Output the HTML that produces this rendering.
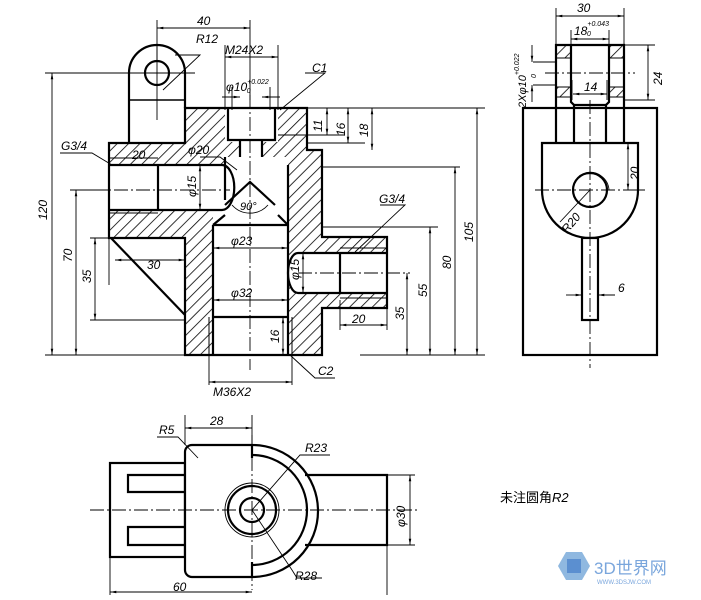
<!DOCTYPE html>
<html><head><meta charset="utf-8"><style>
html,body{margin:0;padding:0;background:#fff;}
svg{display:block}
text{font-family:"Liberation Sans","Noto Sans CJK SC",sans-serif;font-style:italic;fill:#000}
</style></head><body>
<svg width="701" height="600" viewBox="0 0 701 600" xmlns="http://www.w3.org/2000/svg" font-size="12">
<defs>
<pattern id="h" patternUnits="userSpaceOnUse" width="8" height="8" patternTransform="rotate(45)">
<line x1="0" y1="0" x2="0" y2="8" stroke="#000" stroke-width="1.6"/>
</pattern>
<marker id="a" viewBox="0 0 10 10" refX="10" refY="5" markerWidth="7" markerHeight="7" orient="auto-start-reverse"><path d="M0,3 L10,5 L0,7z" fill="#000"/></marker>
</defs>
<rect width="701" height="600" fill="#fff"/>

<!-- ===== FRONT SECTION VIEW ===== -->
<path d="M109,143 H185 V108 H307 V150 H322 V237 H387 V308 H322 V355 H185 V238 H109 Z" fill="url(#h)"/>
<g fill="#fff">
<rect x="225" y="108" width="53" height="34"/>
<rect x="240" y="140" width="22" height="18"/>
<path d="M225,157 H288 V225 H213 V215 L225,205 Z"/>
<path d="M109,165 H222 A12,22 0 0 1 222,210 H109 Z"/>
<rect x="213" y="225" width="75" height="130"/>
<path d="M298,253 H387 V293 H298 A10,20 0 0 1 298,253 Z"/>
</g>
<g fill="none" stroke="#000" stroke-width="2.2">
<path d="M129,143 V73 A28,28 0 0 1 185,73 V108"/>
<circle cx="157" cy="73" r="12"/>
<line x1="129" y1="100" x2="185" y2="100" stroke-width="1.4"/>
<path d="M109,143 H185 V108 H307 V150 H322 V237 H387 V308 H322 V355 H185 V238 H109 Z"/>
<line x1="111" y1="238" x2="185" y2="315"/>
<path d="M228,108 V140 H275 V108"/>
<path d="M240,140 V157 M262,140 V157"/>
<path d="M225,157 V200 M288,165 V225"/>
<path d="M225,205 L250,182 L275,205 M213,225 L225,215 M288,225 L278,215"/>
<path d="M213,225 H288"/>
<path d="M213,225 V355 M288,225 V355"/>
<path d="M213,317 H288"/>
<path d="M209,317 V355 M292,317 V355" stroke-width="1"/>
<path d="M109,165 H222 M109,210 H222"/>
<path d="M222,165 A12,22 0 0 1 222,210"/>
<line x1="158" y1="165" x2="158" y2="210"/>
<path d="M109,158 H158 M109,213 H158" stroke-width="1"/>
<path d="M298,253 H387 M298,293 H387"/>
<path d="M298,253 A10,20 0 0 0 298,293"/>
<line x1="340" y1="253" x2="340" y2="293"/>
<path d="M340,248 H387 M340,298 H387" stroke-width="1"/>
</g>
<g stroke="#000" stroke-width="0.9" fill="none">
<path d="M157,45 V120 M125,73 H195"/>
<path d="M250,95 V370" stroke-dasharray="14,3,2,3"/>
<path d="M70,190 H230" stroke-dasharray="14,3,2,3"/>
<path d="M298,273 H410" stroke-dasharray="14,3,2,3"/>
<path d="M45,73 H130 M45,355 H185 M70,190 H110 M90,238 H109 M90,320 H185"/>
<path d="M307,108 H485 M307,143 H365 M278,135 H345 M322,167 H460 M322,227 H438 M360,355 H485"/>
<path d="M157,20 V60 M250,20 V100 M225,45 V110 M278,45 V110 M232,87 V110 M270,87 V110"/>
<path d="M109,238 V285 M185,250 V285 M340,300 V330 M387,300 V330"/>
<path d="M209,355 V385 M292,355 V385"/>
<line x1="52" y1="73" x2="52" y2="355" marker-start="url(#a)" marker-end="url(#a)"/>
<line x1="76" y1="190" x2="76" y2="355" marker-start="url(#a)" marker-end="url(#a)"/>
<line x1="95" y1="238" x2="95" y2="320" marker-start="url(#a)" marker-end="url(#a)"/>
<line x1="477" y1="108" x2="477" y2="355" marker-start="url(#a)" marker-end="url(#a)"/>
<line x1="455" y1="167" x2="455" y2="355" marker-start="url(#a)" marker-end="url(#a)"/>
<line x1="430" y1="227" x2="430" y2="355" marker-start="url(#a)" marker-end="url(#a)"/>
<line x1="407" y1="273" x2="407" y2="355" marker-start="url(#a)" marker-end="url(#a)"/>
<line x1="327" y1="108" x2="327" y2="135" marker-start="url(#a)" marker-end="url(#a)"/>
<line x1="348" y1="108" x2="348" y2="143" marker-start="url(#a)" marker-end="url(#a)"/>
<line x1="372" y1="108" x2="372" y2="150" marker-start="url(#a)" marker-end="url(#a)"/>
<line x1="157" y1="28" x2="250" y2="28" marker-start="url(#a)" marker-end="url(#a)"/>
<line x1="225" y1="57" x2="278" y2="57" marker-start="url(#a)" marker-end="url(#a)"/>
<line x1="222" y1="97" x2="240" y2="97" marker-end="url(#a)"/>
<line x1="280" y1="97" x2="262" y2="97" marker-end="url(#a)"/>
<line x1="115" y1="260" x2="185" y2="260" marker-start="url(#a)" marker-end="url(#a)"/>
<line x1="213" y1="248" x2="288" y2="248" marker-start="url(#a)" marker-end="url(#a)"/>
<line x1="213" y1="300" x2="288" y2="300" marker-start="url(#a)" marker-end="url(#a)"/>
<line x1="340" y1="325" x2="387" y2="325" marker-start="url(#a)" marker-end="url(#a)"/>
<line x1="209" y1="382" x2="292" y2="382" marker-start="url(#a)" marker-end="url(#a)"/>
<line x1="283" y1="317" x2="283" y2="355" marker-start="url(#a)" marker-end="url(#a)"/>
<line x1="200" y1="190" x2="200" y2="165" marker-end="url(#a)"/>
<line x1="200" y1="190" x2="200" y2="210" marker-end="url(#a)"/>
<line x1="303" y1="273" x2="303" y2="253" marker-end="url(#a)"/>
<line x1="303" y1="273" x2="303" y2="293" marker-end="url(#a)"/>
<path d="M175,55 H200 L163,90"/>
<path d="M305,73 H325 L280,110"/>
<path d="M60,153 H92 L112,165"/>
<path d="M380,205 H405 L355,252"/>
<path d="M290,355 L315,378 H335"/>
<path d="M200,157 H220 L237,170"/>
<path d="M232,205 A24,24 0 0 0 268,205"/>
</g>
<g font-size="12">
<text x="197" y="25">40</text>
<text x="196" y="43">R12</text>
<text x="225" y="54">M24X2</text>
<text x="226" y="91">φ10<tspan font-size="7" dy="-7">+0.022</tspan><tspan font-size="7" dx="-22" dy="9">0</tspan></text>
<text x="312" y="72">C1</text>
<text x="61" y="150">G3/4</text>
<text x="132" y="159">20</text>
<text x="188" y="154">φ20</text>
<text x="240" y="210" font-size="11">90°</text>
<text x="231" y="245">φ23</text>
<text x="231" y="297">φ32</text>
<text x="147" y="269">30</text>
<text x="379" y="203">G3/4</text>
<text x="352" y="323">20</text>
<text x="213" y="396">M36X2</text>
<text x="318" y="375">C2</text>
<text transform="translate(47,220) rotate(-90)">120</text>
<text transform="translate(72,262) rotate(-90)">70</text>
<text transform="translate(91,283) rotate(-90)">35</text>
<text transform="translate(473,242) rotate(-90)">105</text>
<text transform="translate(451,269) rotate(-90)">80</text>
<text transform="translate(427,297) rotate(-90)">55</text>
<text transform="translate(404,320) rotate(-90)">35</text>
<text transform="translate(322,132) rotate(-90)">11</text>
<text transform="translate(345,136) rotate(-90)">16</text>
<text transform="translate(368,137) rotate(-90)">18</text>
<text transform="translate(196,197) rotate(-90)">φ15</text>
<text transform="translate(299,280) rotate(-90)">φ15</text>
<text transform="translate(279,343) rotate(-90)">16</text>
</g>

<!-- ===== SIDE VIEW ===== -->
<g fill="url(#h)">
<rect x="556" y="45" width="14" height="13"/><rect x="610" y="45" width="14" height="13"/>
<rect x="556" y="87" width="14" height="10"/><rect x="610" y="87" width="14" height="10"/>
</g>
<g fill="none" stroke="#000" stroke-width="2.2">
<rect x="523" y="108" width="134" height="247"/>
<path d="M556,143 V45 H624 V143"/>
<path d="M571,45 V102 L574,105 V143 M609,45 V102 L606,105 V143"/>
<path d="M574,105 H606"/>
<path d="M542,143 H638 V190 A48,48 0 0 1 542,190 Z" fill="#fff"/>
<circle cx="590" cy="190" r="17"/>
<rect x="582" y="238" width="16" height="82" fill="#fff"/>
<path d="M556,58 H570 M610,58 H624 M556,87 H570 M610,87 H624 M556,97 H570 M610,97 H624" stroke-width="1"/>
</g>
<g stroke="#000" stroke-width="0.9" fill="none">
<path d="M585,173 A19,19 0 0 1 609,190" />
<path d="M590,100 V368 M535,190 H645 M545,73 H635" stroke-dasharray="14,3,2,3"/>
<path d="M556,8 V45 M624,8 V45 M624,45 H655 M624,100 H655 M571,30 V45 M609,30 V45 M572,80 V100 M607,80 V100 M533,62 H556 M533,85 H556 M625,190 H645 M575,295 H582 M598,295 H615"/>
<line x1="556" y1="16" x2="624" y2="16" marker-start="url(#a)" marker-end="url(#a)"/>
<line x1="571" y1="39" x2="609" y2="39" marker-start="url(#a)" marker-end="url(#a)"/>
<line x1="573" y1="94" x2="607" y2="94" marker-start="url(#a)" marker-end="url(#a)"/>
<line x1="648" y1="45" x2="648" y2="100" marker-start="url(#a)" marker-end="url(#a)"/>
<line x1="628" y1="143" x2="628" y2="190" marker-start="url(#a)" marker-end="url(#a)"/>
<line x1="532" y1="45" x2="532" y2="62" marker-end="url(#a)"/>
<line x1="532" y1="102" x2="532" y2="85" marker-end="url(#a)"/>
<line x1="590" y1="190" x2="560" y2="222"/>
<line x1="566" y1="295" x2="582" y2="295" marker-end="url(#a)"/>
<line x1="614" y1="295" x2="598" y2="295" marker-end="url(#a)"/>
</g>
<g font-size="12">
<text x="577" y="12">30</text>
<text x="574" y="35">18<tspan font-size="7" dy="-9">+0.043</tspan><tspan font-size="7" dx="-22" dy="10">0</tspan></text>
<text x="584" y="91">14</text>
<text x="618" y="292">6</text>
<text transform="translate(662,85) rotate(-90)">24</text>
<text transform="translate(639,180) rotate(-90)">20</text>
<text transform="translate(567,234) rotate(-50)">R20</text>
<text transform="translate(526,108) rotate(-90)" font-size="11">2Xφ10<tspan font-size="7" dy="-7">+0.022</tspan></text>
<text transform="translate(536,78) rotate(-90)" font-size="7">0</text>
</g>

<!-- ===== TOP VIEW ===== -->
<g fill="none" stroke="#000" stroke-width="2.2">
<rect x="110" y="463" width="75" height="94"/>
<path d="M185,475 H128 V492 H185 M185,527 H128 V545 H185"/>
<path d="M252,445 H192 A7,7 0 0 0 185,452 V570 A7,7 0 0 0 192,577 H252" fill="#fff"/>
<path d="M252,445 A65,65 0 0 1 252,577"/>
<path d="M252,455 A55,55 0 0 1 252,565"/>
<path d="M252,445 V458 M252,562 V577"/>
<path d="M305,475 H387 V545 H305"/>
<circle cx="252" cy="510" r="24"/>
<circle cx="252" cy="510" r="12"/>
</g>
<g stroke="#000" stroke-width="0.9" fill="none">
<circle cx="252" cy="510" r="27"/>
<path d="M90,510 H420 M252,435 V590" stroke-dasharray="14,3,2,3"/>
<path d="M185,415 V445 M252,415 V445 M110,557 V595 M387,545 V595 M387,475 H415 M387,545 H415"/>
<line x1="185" y1="428" x2="252" y2="428" marker-start="url(#a)" marker-end="url(#a)"/>
<line x1="110" y1="592" x2="252" y2="592" marker-start="url(#a)" marker-end="url(#a)"/>
<line x1="410" y1="475" x2="410" y2="545" marker-start="url(#a)" marker-end="url(#a)"/>
<path d="M157,437 H178 L198,458"/>
<path d="M252,510 L300,455 H330"/>
<path d="M252,510 L292,570 L297,578 H322"/>
</g>
<g font-size="12">
<text x="159" y="434">R5</text>
<text x="210" y="425">28</text>
<text x="305" y="452">R23</text>
<text x="295" y="580">R28</text>
<text x="173" y="591">60</text>
<text transform="translate(405,527) rotate(-90)">φ30</text>
</g>
<text x="500" y="502" font-size="13" style="font-style:normal">未注圆角<tspan font-style="italic">R2</tspan></text>

<!-- logo -->
<g>
<polygon points="566,552 582,552 590,566 582,580 566,580 558,566" fill="#8fb8e0"/>
<rect x="567" y="559" width="14" height="14" fill="#5b8fd0"/>
<text x="594" y="574" font-size="17" style="font-style:normal;fill:#7aa6dc">3D世界网</text>
<text x="597" y="584" font-size="6" style="font-style:normal;fill:#7aa6dc">WWW.3DSJW.COM</text>
</g>
</svg>
</body></html>
